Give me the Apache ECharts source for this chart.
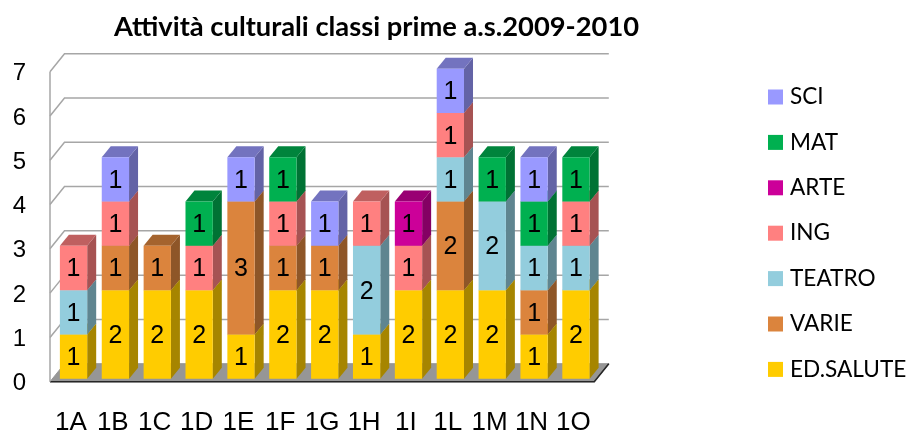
<!DOCTYPE html>
<html>

<head>
    <meta charset="utf-8">
    <style>
        html, body { margin: 0; padding: 0; background-color: #fff; }
        #main { width: 909px; height: 432px; }
    </style>
</head>

<body>
    <div id="main"></div>

    <script src="https://cdn.jsdelivr.net/npm/echarts@6/dist/echarts.min.js"></script>
    <script type="text/javascript">
        var categories = ['1A', '1B', '1C', '1D', '1E', '1F', '1G', '1H', '1I', '1L', '1M', '1N', '1O'];
        var yTicks = [0, 1, 2, 3, 4, 5, 6, 7];

        // stacked from the floor up
        var seriesNames = ['ED.SALUTE', 'VARIE', 'TEATRO', 'ING', 'ARTE', 'MAT', 'SCI'];
        var edSalute = [1, 2, 2, 2, 1, 2, 2, 1, 2, 2, 2, 1, 2];
        var varie = [0, 1, 1, 0, 3, 1, 1, 0, 0, 2, 0, 1, 0];
        var teatro = [1, 0, 0, 0, 0, 0, 0, 2, 0, 1, 2, 1, 1];
        var ing = [1, 1, 0, 1, 0, 1, 0, 1, 1, 1, 0, 0, 1];
        var arte = [0, 0, 0, 0, 0, 0, 0, 0, 1, 0, 0, 0, 0];
        var mat = [0, 0, 0, 1, 0, 1, 0, 0, 0, 0, 1, 1, 1];
        var sci = [0, 1, 0, 0, 1, 0, 1, 0, 0, 1, 0, 1, 0];
        var seriesValues = [edSalute, varie, teatro, ing, arte, mat, sci];
        var seriesColors = ['#FFCC00', '#DB843D', '#93CDDD', '#FF8080', '#CC0099', '#00B050', '#9999FF'];
        var sideColors = ['#A68500', '#8E5628', '#5F8590', '#A65353', '#840063', '#007234', '#6363A6'];
        var topColors = ['#BF9900', '#A4632E', '#6E9AA6', '#BF6060', '#990073', '#00843C', '#7373BF'];

        // fake 3D offsets, in pixels
        var wallDx = 14.5, wallDy = 18;
        var barShiftX = 2.6, barShiftY = 3;
        var barDx = 9, barDy = 11;

        var myChart = echarts.init(document.getElementById('main'), null, { renderer: 'canvas' });

        function renderWall(params, api) {
            var cs = params.coordSys;
            var y = api.coord([0, api.value(1)])[1];
            var left = cs.x, right = cs.x + cs.width;
            var children = [];
            if (api.value(1) === 0) {
                children.push({
                    type: 'polygon',
                    shape: { points: [[left, y], [right, y], [right + wallDx, y - wallDy], [left + wallDx, y - wallDy]] },
                    style: { fill: '#969696', stroke: '#969696' }
                });
                children.push({
                    type: 'polyline',
                    shape: { points: [[left, y], [right, y], [right + wallDx, y - wallDy]] },
                    style: { fill: null, stroke: '#262626', lineWidth: 1.6 }
                });
            } else {
                children.push({
                    type: 'polyline',
                    shape: { points: [[left, y], [left + wallDx, y - wallDy], [right + wallDx, y - wallDy]] },
                    style: { fill: null, stroke: '#A6A6A6', lineWidth: 1.5 }
                });
            }
            if (api.value(1) === 7) {
                children.push({
                    type: 'line',
                    shape: { x1: left, y1: y, x2: left, y2: cs.y + cs.height },
                    style: { stroke: '#A6A6A6', lineWidth: 1.5 }
                });
            }
            return { type: 'group', children: children };
        }

        function renderSegment(s) {
            return function (params, api) {
                var base = api.coord([api.value(0), api.value(1)]);
                var head = api.coord([api.value(0), api.value(1) + api.value(2)]);
                var w = api.size([1, 0])[0] * 0.652;
                var x0 = base[0] - w / 2 + barShiftX, x1 = x0 + w;
                var y0 = base[1] - barShiftY, y1 = head[1] - barShiftY;
                return {
                    type: 'group',
                    children: [
                        {
                            type: 'polygon',
                            shape: { points: [[x1, y0], [x1 + barDx, y0 - barDy], [x1 + barDx, y1 - barDy], [x1, y1]] },
                            style: { fill: sideColors[s] }
                        },
                        {
                            type: 'polygon',
                            shape: { points: [[x0, y1], [x1, y1], [x1 + barDx, y1 - barDy], [x0 + barDx, y1 - barDy]] },
                            style: { fill: topColors[s] }
                        },
                        {
                            type: 'rect',
                            shape: { x: x0, y: y1, width: w, height: y0 - y1 },
                            style: { fill: seriesColors[s] }
                        },
                        {
                            type: 'text',
                            style: {
                                x: (x0 + x1) / 2,
                                y: (y0 + y1) / 2 + 1.5,
                                text: String(api.value(2)),
                                align: 'center',
                                verticalAlign: 'middle',
                                fill: '#000',
                                font: '25px "Liberation Sans", Arial, sans-serif'
                            }
                        }
                    ]
                };
            };
        }

        var series = [{
            name: 'walls',
            type: 'custom',
            coordinateSystem: 'cartesian2d',
            renderItem: renderWall,
            data: yTicks.map(function (t) { return [0, t]; }),
            encode: { x: 0, y: 1 },
            silent: true,
            z: 1
        }];

        var running = categories.map(function () { return 0; });
        seriesNames.forEach(function (name, s) {
            var rows = [];
            seriesValues[s].forEach(function (v, i) {
                if (v > 0) {
                    rows.push([i, running[i], v]);
                    running[i] += v;
                }
            });
            series.push({
                name: name,
                type: 'custom',
                coordinateSystem: 'cartesian2d',
                renderItem: renderSegment(s),
                itemStyle: { color: seriesColors[s] },
                data: rows,
                encode: { x: 0, y: [1, 2] },
                z: 2 + s
            });
        });

        var option = {
            animation: false,
            backgroundColor: '#fff',
            color: seriesColors,
            title: {
                text: 'Attività culturali classi prime a.s.2009-2010',
                left: 371.5,
                top: 9,
                textAlign: 'center',
                textStyle: {
                    fontFamily: 'Lato',
                    fontWeight: 'bold',
                    fontSize: 27.3,
                    color: '#000'
                }
            },
            legend: {
                orient: 'vertical',
                left: 763,
                top: 80.5,
                itemWidth: 15,
                itemHeight: 15,
                itemGap: 22.4,
                icon: 'rect',
                selectedMode: false,
                data: seriesNames.slice().reverse(),
                textStyle: {
                    fontFamily: 'Lato',
                    fontSize: 22.6,
                    padding: [0, 0, 0, 2],
                    color: '#000'
                }
            },
            grid: {
                left: 50,
                right: 314.7,
                top: 71.7,
                bottom: 50.3,
                outerBoundsMode: 'none'
            },
            xAxis: {
                type: 'category',
                data: categories,
                axisLine: { show: false },
                axisTick: { show: false },
                axisLabel: {
                    interval: 0,
                    margin: 28,
                    fontFamily: 'Liberation Sans',
                    fontSize: 26,
                    color: '#000'
                }
            },
            yAxis: {
                type: 'value',
                min: 0,
                max: 7,
                interval: 1,
                axisLine: { show: false },
                axisTick: { show: false },
                splitLine: { show: false },
                axisLabel: {
                    margin: 24,
                    verticalAlign: 'top',
                    lineHeight: 4,
                    fontFamily: 'Liberation Sans',
                    fontSize: 24,
                    color: '#000'
                }
            },
            series: series
        };

        myChart.setOption(option);
    </script>
</body>

</html>
